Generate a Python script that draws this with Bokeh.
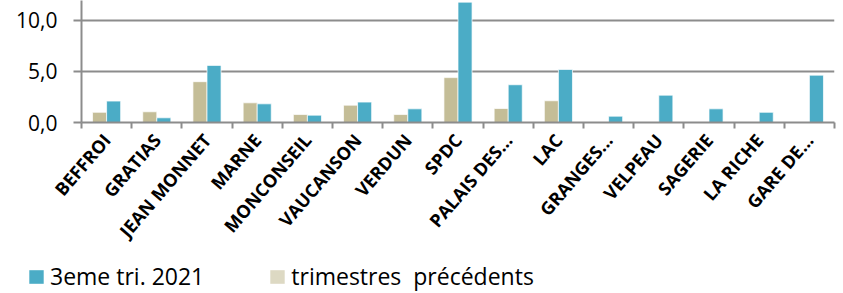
from bokeh.plotting import figure
from bokeh.models import (ColumnDataSource, Range1d, FixedTicker, Legend, LegendItem)
from bokeh.layouts import column
from bokeh.transform import dodge
from bokeh.embed import file_html
from bokeh.resources import INLINE

categories = ["BEFFROI", "GRATIAS", "JEAN MONNET", "MARNE", "MONCONSEIL", "VAUCANSON",
              "VERDUN", "SPDC", "PALAIS DES...", "LAC", "GRANGES...", "VELPEAU",
              "SAGERIE", "LA RICHE", "GARE DE..."]
current = [2.1, 0.46, 5.6, 1.83, 0.72, 2.0, 1.34, 11.8, 3.7, 5.2, 0.62, 2.68, 1.34, 1.0, 4.64]
previous = [1.0, 1.05, 4.0, 1.93, 0.78, 1.7, 0.78, 4.4, 1.37, 2.13, 0, 0, 0, 0, 0]
y_ticks = [0, 5, 10]
y_tick_labels = ["0,0", "5,0", "10,0"]
series_names = ["3eme tri. 2021", "trimestres  précédents"]

BLUE = "#4BACC6"
TAN = "#C4BD97"
TAN_LIGHT = "#DDD9C3"
GRID = "#8C8C8C"

H1 = 258
xs = list(range(len(categories)))
src = ColumnDataSource(dict(x=xs, cur=current, prev=previous))

p = figure(width=843, height=H1, output_backend="svg", toolbar_location=None,
           x_range=Range1d(-0.5, len(categories) - 0.5), y_range=Range1d(0, 11.96),
           min_border_left=81, min_border_right=9, min_border_top=0,
           min_border_bottom=H1 - 122)
p.outline_line_color = None
p.background_fill_color = "white"
p.border_fill_color = "white"

p.vbar(x=dodge("x", -0.14, range=p.x_range), top="prev", width=0.28, source=src,
       fill_color=TAN, line_color="white", line_alpha=0.7, line_width=1)
p.vbar(x=dodge("x", 0.14, range=p.x_range), top="cur", width=0.28, source=src,
       fill_color=BLUE, line_color="white", line_alpha=0.7, line_width=1)

# y axis
p.yaxis.ticker = FixedTicker(ticks=y_ticks, minor_ticks=[])
p.yaxis.major_label_overrides = {t: l for t, l in zip(y_ticks, y_tick_labels)}
p.yaxis.axis_line_color = GRID
p.yaxis.axis_line_width = 2
p.yaxis.major_tick_line_color = GRID
p.yaxis.major_tick_line_width = 2
p.yaxis.major_tick_out = 8
p.yaxis.major_tick_in = 0
p.yaxis.minor_tick_line_color = None
p.yaxis.major_label_standoff = 16
p.yaxis.major_label_text_font = "Open Sans"
p.yaxis.major_label_text_font_size = "21px"
p.yaxis.major_label_text_color = "#000000"

# x axis
p.xaxis.ticker = FixedTicker(ticks=xs, minor_ticks=[i - 0.5 for i in range(len(categories) + 1)])
p.xaxis.major_label_overrides = {i: c for i, c in zip(xs, categories)}
p.xaxis.axis_line_color = GRID
p.xaxis.axis_line_width = 2
p.xaxis.major_tick_line_color = None
p.xaxis.minor_tick_line_color = GRID
p.xaxis.minor_tick_line_width = 2
p.xaxis.minor_tick_out = 6
p.xaxis.minor_tick_in = 0
p.xaxis.major_label_orientation = 0.86
p.xaxis.major_label_standoff = 8
p.xaxis.major_label_text_font = "Open Sans"
p.xaxis.major_label_text_font_style = "bold"
p.xaxis.major_label_text_font_size = "18px"
p.xaxis.major_label_text_color = "#000000"

p.xgrid.grid_line_color = None
p.ygrid.ticker = FixedTicker(ticks=[5, 10])
p.ygrid.grid_line_color = GRID
p.ygrid.grid_line_width = 2

# legend strip below the chart (its bars fall outside its ranges, only the legend shows)
p2 = figure(width=843, height=293 - H1, output_backend="svg", toolbar_location=None,
            x_range=Range1d(100, 101), y_range=Range1d(50, 51), x_axis_type=None, y_axis_type=None,
            min_border_left=0, min_border_right=0, min_border_top=0, min_border_bottom=0)
p2.outline_line_color = None
p2.border_fill_color = "white"
cur_sw = p2.vbar(x="x", top="cur", width=0.0, source=src, fill_color=BLUE, line_color=None)
prev_sw = p2.vbar(x="x", top="prev", width=0.0, source=src, fill_color=TAN_LIGHT, line_color=None)
legend = Legend(items=[LegendItem(label=series_names[0], renderers=[cur_sw]),
                       LegendItem(label=series_names[1], renderers=[prev_sw])],
                orientation="horizontal", location=(27, 1),
                glyph_width=18, glyph_height=17, label_standoff=5, spacing=64,
                padding=0, margin=0, background_fill_alpha=0, border_line_color=None,
                label_text_font="Open Sans", label_text_font_size="23px",
                label_text_color="#000000")
p2.add_layout(legend, "center")

layout = column(p, column(p2), spacing=0)
open("out.html", "w").write(file_html(layout, INLINE))
